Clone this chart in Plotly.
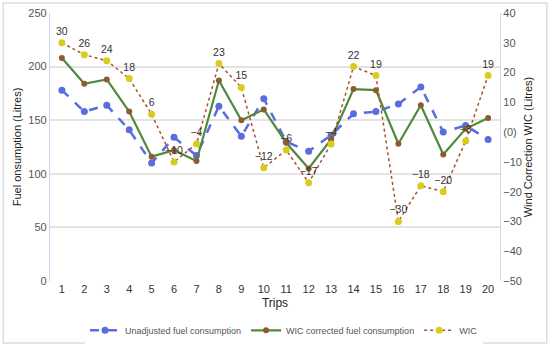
import plotly.graph_objects as go

trips = list(range(1, 21))
unadjusted = [178, 158, 164, 141, 110, 134, 117, 163, 135, 170, 130, 121, 136, 156, 158, 165, 181, 139, 145, 132]
wic_corrected = [208, 184, 188, 158, 116, 122, 112, 187, 150, 160, 129, 105, 132, 179, 178, 128, 164, 118, 142, 152]
wic = [30, 26, 24, 18, 6, -10, -4, 23, 15, -12, -6, -17, -4, 22, 19, -30, -18, -20, -3, 19]

left_ticks = [0, 50, 100, 150, 200, 250]
right_ticks = [-50, -40, -30, -20, -10, 0, 10, 20, 30, 40]
right_ticktext = ["(0)" if v == 0 else str(v).replace("-", "\u2212") for v in right_ticks]
wic_text = [str(v).replace("-", "\u2212") for v in wic]

fig = go.Figure()
fig.add_trace(go.Scatter(
    x=trips, y=unadjusted, name="Unadjusted fuel consumption", mode="lines+markers",
    line=dict(color="#5b6be0", width=2.5, dash="dash"),
    marker=dict(color="#5b6be0", size=7),
))
fig.add_trace(go.Scatter(
    x=trips, y=wic_corrected, name="WIC corrected fuel consumption", mode="lines+markers",
    line=dict(color="#4f8a3c", width=2.2),
    marker=dict(color="#8e5b2e", size=6),
))
fig.add_trace(go.Scatter(
    x=trips, y=wic, name="WIC", mode="lines+markers+text", yaxis="y2",
    line=dict(color="#a8522a", width=1.5, dash="dot"),
    marker=dict(color="#d9cc1e", size=7),
    text=wic_text, textposition="top center",
    textfont=dict(size=10.5, color="#333333"),
))

fig.update_layout(
    width=550, height=346,
    margin=dict(l=50, r=50, t=13, b=65, autoexpand=False),
    paper_bgcolor="white", plot_bgcolor="white",
    font=dict(family="Liberation Sans, Arial, sans-serif", size=11, color="#444444"),
    showlegend=True,
    legend=dict(orientation="h", x=0.52, xanchor="center", y=-0.13, yanchor="top",
                font=dict(size=9, color="#555555"), itemwidth=30, tracegroupgap=0),
    xaxis=dict(
        range=[0.47, 20.53], tickvals=trips, ticktext=[str(t) for t in trips],
        showgrid=False, zeroline=False, showline=False, ticks="",
        title=dict(text="Trips", font=dict(size=12, color="#222222"), standoff=4),
        tickfont=dict(size=11, color="#333333"),
    ),
    yaxis=dict(
        range=[0, 250], tickvals=left_ticks, showgrid=True, gridcolor="#e3e3e3", gridwidth=1.5,
        zeroline=False, showline=True, linecolor="#c9d5f2", linewidth=1.2,
        title=dict(text="Fuel onsumption (Litres)", font=dict(size=11, color="#222222"), standoff=4),
        tickfont=dict(size=11, color="#555555"),
    ),
    yaxis2=dict(
        range=[-50, 40], tickvals=right_ticks, ticktext=right_ticktext, overlaying="y", side="right",
        showgrid=False, zeroline=False, showline=True, linecolor="#c9d5f2", linewidth=1.2,
        title=dict(text="Wind Correction WIC (Litres)", font=dict(size=11, color="#222222"), standoff=2),
        tickfont=dict(size=11, color="#555555"),
    ),
    shapes=[dict(type="rect", xref="paper", yref="paper", x0=-0.104, x1=1.104, y0=-0.231, y1=1.037,
                 line=dict(color="#dddddd", width=1.5), layer="below")],
)

fig.write_html("out.html", config={"displayModeBar": False},
               post_script="document.body.style.margin='0';document.body.style.overflow='hidden';")
